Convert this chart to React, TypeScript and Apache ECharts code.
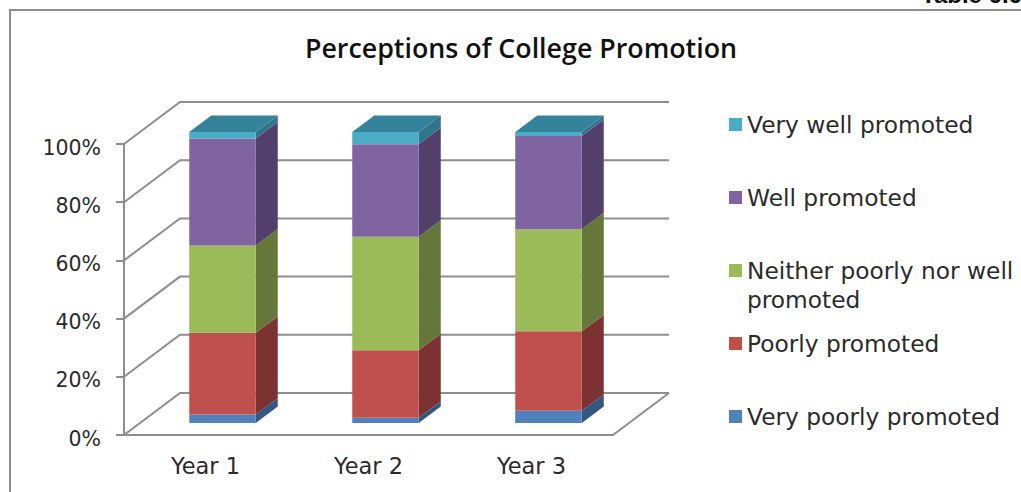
import React, { useEffect, useRef } from "react";
import * as echarts from "echarts";

const years = ["Year 1", "Year 2", "Year 3"];
const yTicks = [0, 20, 40, 60, 80, 100];

const veryPoorly = [2.9, 1.8, 4.2];
const poorly = [28.1, 23.2, 27.3];
const neither = [30, 39, 35.1];
const well = [36.8, 31.8, 32];
const veryWell = [2.2, 4.2, 1.4];

const seriesNames = [
  "Very poorly promoted",
  "Poorly promoted",
  "Neither poorly nor well promoted",
  "Well promoted",
  "Very well promoted",
];
const seriesValues = [veryPoorly, poorly, neither, well, veryWell];
const frontColors = ["#4F81BD", "#C0504D", "#9BBB59", "#8064A2", "#4BACC6"];
const sideColors = ["#33577F", "#7B3230", "#65783A", "#533F6B", "#2F7488"];
const topColor = "#35839A";

const FONT = "DejaVu Sans";
const LINE = "#8E8E8E";
const TEXT = "#2B2B2B";

// Oblique projection of the plot box: wall depth and the bars' place inside it.
const WALL_DX = 56;
const WALL_DY = 42;
const BAR_SHIFT_X = 17;
const BAR_SHIFT_Y = 12;
const BAR_DX = 22;
const BAR_DY = 16.4;
const BAR_BAND = 0.408;

function renderWall(params: any, api: any) {
  const cs = params.coordSys;
  const y = api.coord([0, api.value(1)])[1];
  const children: any[] = [
    {
      type: "polyline",
      shape: {
        points: [
          [cs.x, y],
          [cs.x + WALL_DX, y - WALL_DY],
          [cs.x + cs.width + WALL_DX, y - WALL_DY],
        ],
      },
      style: { stroke: LINE, lineWidth: 2, fill: "none" },
    },
  ];
  if (api.value(1) === 0) {
    children.push({
      type: "line",
      shape: {
        x1: cs.x + cs.width,
        y1: y,
        x2: cs.x + cs.width + WALL_DX,
        y2: y - WALL_DY,
      },
      style: { stroke: LINE, lineWidth: 2 },
    });
  }
  return { type: "group", children };
}

function makeBarRenderer(front: string, side: string, capped: boolean) {
  return (_params: any, api: any) => {
    const cat = api.value(0);
    const low = api.coord([cat, api.value(1)]);
    const high = api.coord([cat, api.value(2)]);
    const width = api.size([1, 0])[0] * BAR_BAND;
    const x0 = low[0] + BAR_SHIFT_X - width / 2;
    const x1 = x0 + width;
    const yBase = low[1] - BAR_SHIFT_Y;
    const yTop = high[1] - BAR_SHIFT_Y;
    const children: any[] = [
      {
        type: "polygon",
        shape: {
          points: [
            [x1, yBase],
            [x1 + BAR_DX, yBase - BAR_DY],
            [x1 + BAR_DX, yTop - BAR_DY],
            [x1, yTop],
          ],
        },
        style: { fill: side },
      },
      {
        type: "rect",
        shape: { x: x0, y: yTop, width, height: yBase - yTop },
        style: { fill: front },
      },
    ];
    if (capped) {
      children.push({
        type: "polygon",
        shape: {
          points: [
            [x0, yTop],
            [x1, yTop],
            [x1 + BAR_DX, yTop - BAR_DY],
            [x0 + BAR_DX, yTop - BAR_DY],
          ],
        },
        style: { fill: topColor },
      });
    }
    return { type: "group", children };
  };
}

function buildBarSeries() {
  const running = years.map(() => 0);
  return seriesNames.map((name, s) => {
    const data = years.map((_, c) => {
      const base = running[c];
      running[c] = base + seriesValues[s][c];
      return [c, base, running[c]];
    });
    return {
      type: "custom",
      name,
      z: 2,
      silent: true,
      itemStyle: { color: frontColors[s] },
      encode: { x: 0, y: [1, 2] },
      renderItem: makeBarRenderer(
        frontColors[s],
        sideColors[s],
        s === seriesNames.length - 1
      ),
      data,
    };
  });
}

export default function App() {
  const ref = useRef<HTMLDivElement>(null);

  useEffect(() => {
    const chart = echarts.init(ref.current!, undefined, { renderer: "svg" });
    chart.setOption({
      animation: false,
      backgroundColor: "#FFFFFF",
      title: {
        text: "Perceptions of College Promotion",
        left: 516,
        top: 29,
        textAlign: "center",
        textStyle: {
          fontFamily: "Open Sans",
          fontWeight: 600,
          fontSize: 26.8,
          color: "#111111",
        },
      },
      grid: { left: 124, right: 408, top: 144, bottom: 57 },
      legend: {
        data: [...seriesNames].reverse(),
        orient: "vertical",
        left: 729,
        top: 110.5,
        padding: 0,
        itemWidth: 13,
        itemHeight: 13,
        itemGap: 45,
        icon: "rect",
        selectedMode: false,
        formatter: (name: string) =>
          name === seriesNames[2] ? "Neither poorly nor well" : name,
        textStyle: {
          fontFamily: FONT,
          fontSize: 23.3,
          lineHeight: 28,
          color: TEXT,
        },
      },
      xAxis: {
        type: "category",
        data: years,
        axisLine: { lineStyle: { color: LINE, width: 2 } },
        axisTick: { length: 7, lineStyle: { color: LINE, width: 2 } },
        axisLabel: {
          fontFamily: FONT,
          fontSize: 22.5,
          color: TEXT,
          margin: 19,
        },
      },
      yAxis: {
        type: "value",
        min: 0,
        max: 100,
        interval: 20,
        splitLine: { show: false },
        axisLine: { show: true, lineStyle: { color: LINE, width: 2 } },
        axisTick: { show: true, length: 8, lineStyle: { color: LINE, width: 2 } },
        axisLabel: {
          fontFamily: FONT,
          fontSize: 20.5,
          color: TEXT,
          margin: 23,
          verticalAlign: "top",
          lineHeight: 7,
          formatter: "{value}%",
        },
      },
      graphic: [
        {
          type: "polyline",
          silent: true,
          shape: {
            points: [
              [10, 492],
              [10, 10],
              [1021, 10],
            ],
          },
          style: { stroke: LINE, lineWidth: 2, fill: "none" },
        },
        {
          type: "text",
          silent: true,
          x: 921,
          y: 6,
          style: {
            text: "Table 6.6",
            fontFamily: "Liberation Sans",
            fontWeight: "bold",
            fontSize: 24,
            fill: "#111111",
            verticalAlign: "bottom",
          },
        },
        {
          type: "text",
          silent: true,
          x: 747,
          y: 299,
          style: {
            text: "promoted",
            fontFamily: FONT,
            fontSize: 23.3,
            fill: TEXT,
            verticalAlign: "middle",
          },
        },
      ],
      series: [
        {
          type: "custom",
          z: 1,
          silent: true,
          encode: { x: 0, y: 1 },
          renderItem: renderWall,
          data: yTicks.map((t) => [0, t]),
        },
        ...buildBarSeries(),
      ],
    });
    return () => chart.dispose();
  }, []);

  return (
    <div
      ref={ref}
      style={{ position: "absolute", left: 0, top: 0, width: 1021, height: 492 }}
    />
  );
}
